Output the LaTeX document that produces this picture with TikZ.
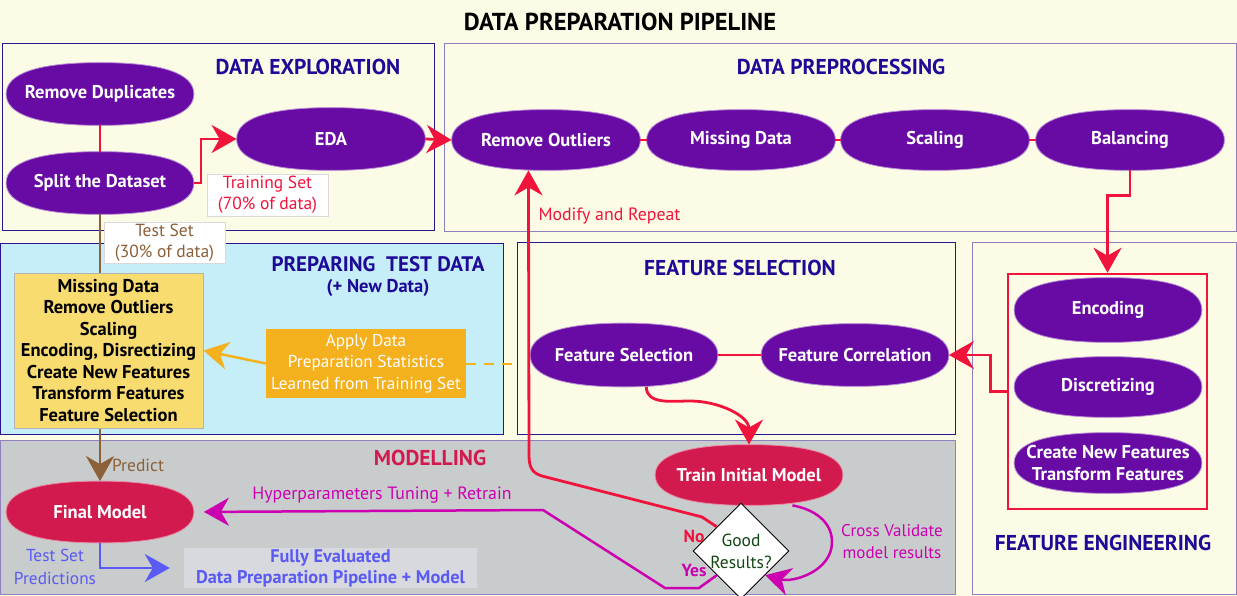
\documentclass[tikz,border=0pt]{standalone}
\usepackage{fontspec}
\setmainfont{PT Sans}
\usetikzlibrary{shapes.geometric,arrows.meta,calc}
\definecolor{bgc}{RGB}{252,252,230}
\definecolor{pur}{RGB}{104,10,164}
\definecolor{ttl}{RGB}{30,10,150}
\definecolor{bdark}{RGB}{40,20,140}
\definecolor{blav}{RGB}{145,128,192}
\definecolor{redc}{RGB}{240,20,60}
\definecolor{crim}{RGB}{210,26,78}
\definecolor{mag}{RGB}{204,0,176}
\definecolor{brn}{RGB}{140,96,56}
\definecolor{blu}{RGB}{90,90,245}
\definecolor{org}{RGB}{245,176,30}
\definecolor{ylw}{RGB}{248,220,112}
\definecolor{cyn}{RGB}{198,238,249}
\definecolor{gry}{RGB}{200,204,204}
\definecolor{grn}{RGB}{20,70,20}
\definecolor{fegray}{RGB}{216,217,222}
\makeatletter
\newdimen\seXa \newdimen\seXb \newdimen\seYa \newdimen\seYb
\newdimen\seXc \newdimen\seYc \newdimen\seKx \newdimen\seKy
\newdimen\seXp \newdimen\seXm \newdimen\seYp \newdimen\seYm
\pgfdeclareshape{sellipse}{
  \inheritsavedanchors[from=rectangle]
  \inheritanchorborder[from=rectangle]
  \inheritanchor[from=rectangle]{center}
  \inheritanchor[from=rectangle]{north}
  \inheritanchor[from=rectangle]{south}
  \inheritanchor[from=rectangle]{east}
  \inheritanchor[from=rectangle]{west}
  \inheritanchor[from=rectangle]{north east}
  \inheritanchor[from=rectangle]{north west}
  \inheritanchor[from=rectangle]{south east}
  \inheritanchor[from=rectangle]{south west}
  \inheritanchor[from=rectangle]{base}
  \inheritanchor[from=rectangle]{mid}
  \backgroundpath{%
    \southwest \seXa=\pgf@x \seYa=\pgf@y
    \northeast \seXb=\pgf@x \seYb=\pgf@y
    \seXc=\seXa \advance\seXc by \seXb \divide\seXc by 2
    \seYc=\seYa \advance\seYc by \seYb \divide\seYc by 2
    \seKx=\seXb \advance\seKx by -\seXc \seKx=0.66\seKx
    \seKy=\seYb \advance\seKy by -\seYc \seKy=0.66\seKy
    \seXp=\seXc \advance\seXp by \seKx
    \seXm=\seXc \advance\seXm by -\seKx
    \seYp=\seYc \advance\seYp by \seKy
    \seYm=\seYc \advance\seYm by -\seKy
    \pgfpathmoveto{\pgfpoint{\seXa}{\seYc}}%
    \pgfpathcurveto{\pgfpoint{\seXa}{\seYp}}{\pgfpoint{\seXm}{\seYb}}{\pgfpoint{\seXc}{\seYb}}%
    \pgfpathcurveto{\pgfpoint{\seXp}{\seYb}}{\pgfpoint{\seXb}{\seYp}}{\pgfpoint{\seXb}{\seYc}}%
    \pgfpathcurveto{\pgfpoint{\seXb}{\seYm}}{\pgfpoint{\seXp}{\seYa}}{\pgfpoint{\seXc}{\seYa}}%
    \pgfpathcurveto{\pgfpoint{\seXm}{\seYa}}{\pgfpoint{\seXa}{\seYm}}{\pgfpoint{\seXa}{\seYc}}%
    \pgfpathclose
  }
}
\makeatother
\tikzset{
  panel/.style={draw, line width=1.3pt, anchor=north west, inner sep=0pt},
  pn/.style={sellipse, fill=pur, draw=pur!45!white, line width=0.8pt, text=white,
    font=\bfseries\fontsize{18.5}{22}\selectfont, inner sep=0pt,
    minimum width=187pt, minimum height=62pt, align=center},
  cn/.style={pn, fill=crim, draw=crim!50!white},
  ptitle/.style={text=ttl, font=\bfseries\fontsize{21.5}{25}\selectfont},
  tip/.style={-{Stealth[length=25pt,width=28pt,inset=8pt]}},
  redl/.style={draw=redc, line width=2.8pt},
  lbl/.style={font=\fontsize{17.5}{21}\selectfont, align=center},
}
\begin{document}
\begin{tikzpicture}[x=1pt,y=-1pt]
\useasboundingbox (0,0) rectangle (1237,596);
\fill[bgc] (0,0) rectangle (1237,596);
\node[font=\bfseries\fontsize{24.5}{28}\selectfont] (title) at (620,22) {DATA PREPARATION PIPELINE};

% panels
\node[panel, draw=bdark, fill=bgc, minimum width=432pt, minimum height=187pt] (pde) at (2,43) {};
\node[panel, draw=blav, fill=bgc, minimum width=792pt, minimum height=188pt] (ppp) at (444,43) {};
\node[panel, draw=bdark, fill=cyn, minimum width=503pt, minimum height=191pt] (ptd) at (0,243) {};
\node[panel, draw=bdark, fill=bgc, minimum width=438pt, minimum height=192pt] (pfs) at (517,242) {};
\node[panel, draw=blav, fill=bgc, minimum width=264pt, minimum height=352pt] (pfe) at (972,242) {};
\node[panel, draw=blav, fill=gry, minimum width=955pt, minimum height=154pt] (pmo) at (0,440) {};

% panel titles
\node[ptitle] (tde) at (308,67) {DATA EXPLORATION};
\node[ptitle] (tpp) at (841,67) {DATA PREPROCESSING};
\node[ptitle, font=\bfseries\fontsize{21}{25}\selectfont] (ttd) at (378,264) {PREPARING\ \ TEST DATA};
\node[text=ttl, font=\bfseries\fontsize{18.5}{22}\selectfont] (ttd2) at (378,288) {(+ New Data)};
\node[ptitle] (tfs) at (740,268) {FEATURE SELECTION};
\node[ptitle] (tfe) at (1103,543) {FEATURE ENGINEERING};
\node[ptitle, text=crim] (tmo) at (430,458) {MODELLING};

% nodes
\node[pn] (rd) at (100,94) {Remove Duplicates};
\node[pn] (sd) at (100,183) {Split the Dataset};
\node[pn, minimum width=188pt] (eda) at (331,139) {EDA};
\node[pn, minimum width=188pt, minimum height=60pt] (ro) at (546,140) {Remove Outliers};
\node[pn, minimum width=188pt, minimum height=60pt] (md) at (741,140) {Missing Data};
\node[pn, minimum width=188pt, minimum height=60pt] (sc) at (935,140) {Scaling};
\node[pn, minimum width=188pt, minimum height=60pt] (ba) at (1130,140) {Balancing};
\node[pn, minimum height=63pt] (fs) at (624,355) {Feature Selection};
\node[pn] (fc) at (855,355) {Feature Correlation};
\node[cn, minimum height=60pt] (tim) at (749,475) {Train Initial Model};
\node[cn, minimum height=61pt] (fm) at (100,512) {Final Model};
\node[pn, minimum height=64pt] (enc) at (1108,310) {Encoding};
\node[pn, minimum height=60pt] (dis) at (1108,387) {Discretizing};
\node[pn, minimum height=60pt] (cnf) at (1108,463) {Create New Features\\Transform Features};
\node[draw=redc, line width=2.5pt, minimum width=199pt, minimum height=235pt, inner sep=0pt] (feb) at (1107.5,391.5) {};

\node[diamond, aspect=1, fill=white, draw=black, line width=1pt, inner sep=0pt,
  minimum width=88pt, minimum height=88pt, text=grn, align=center,
  font=\fontsize{17.5}{22}\selectfont] (gr) at (741,551) {Good\\Results?};

% predict line (under yellow box)
\draw[draw=brn, line width=2.8pt, tip, brn] (sd.south) -- (fm.north);
\node[text=brn, font=\fontsize{17.5}{20}\selectfont] (pl) at (138,465) {Predict};

\node[fill=ylw, draw=gray!60, line width=0.8pt, minimum width=189pt, minimum height=155pt,
  inner sep=0pt, align=center, font=\bfseries\fontsize{18.5}{21.5}\selectfont] (yb) at (108.5,350.5)
  {Missing Data\\Remove Outliers\\Scaling\\Encoding, Disrectizing\\Create New Features\\Transform Features\\Feature Selection};
\node[fill=org, minimum width=200pt, minimum height=69pt, inner sep=0pt, align=center,
  text=white, font=\fontsize{17.2}{21.3}\selectfont] (ob) at (366,363.5)
  {Apply Data\\Preparation Statistics\\Learned from Training Set};

% labels with boxes
\node[fill=white, draw=gray!30, line width=0.8pt, minimum width=121pt, minimum height=42pt, inner sep=0pt,
  text=redc, lbl] (tsl) at (267.5,195) {Training Set\\(70\% of data)};
\node[fill=white, draw=gray!30, line width=0.8pt, minimum width=121pt, minimum height=41pt, inner sep=0pt,
  text=brn, lbl] (tel) at (164.5,242.5) {Test Set\\(30\% of data)};
\node[fill=fegray, minimum width=293pt, minimum height=40pt, inner sep=0pt, text=blu, align=center,
  font=\bfseries\fontsize{18.3}{21}\selectfont] (fe) at (330.5,568) {Fully Evaluated\\Data Preparation Pipeline + Model};

% connectors
\draw[redl] (rd) -- (sd);
\draw[redl, tip, redc] (sd.east) -- ++(7,0) |- (eda.west);
\draw[redl, tip, redc] (eda.east) -- (ro.west);
\draw[redl] (ro) -- (md);
\draw[redl] (md) -- (sc);
\draw[redl] (sc) -- (ba);
\draw[redl, tip, redc] (ba.south) -- ++(0,25) -| (feb.north);
\draw[redl, tip, redc] (feb.west) -- ++(-16,0) |- (fc.east);
\draw[redl] (fs) -- (fc);
\draw[redl, tip, redc] (fs.305) to[out=-90,in=180] (690,401) to[out=0,in=90] (tim.north);
\draw[redl, tip, redc] (gr.north west) -- (702,517) -- (542,476)
  .. controls (532,473) and (529,467) .. (529,455) -- (ro.240);
\node[text=redc, anchor=west, font=\fontsize{17.8}{20}\selectfont] (mr) at (535,216) {Modify and Repeat};

\draw[draw=mag, line width=2.5pt, tip, mag, shorten >=10pt] (gr.south west) -- (699,588) -- (665,588) -- (543,510) -- (fm.east);
\node[text=mag, font=\fontsize{17.8}{20}\selectfont] (hp) at (382,495) {Hyperparameters Tuning + Retrain};
\draw[draw=mag, line width=2.5pt, tip, mag] (tim.325) to[out=-10,in=90] (832,542) to[out=-90,in=-15] (gr.south east);
\node[text=mag, lbl, font=\fontsize{17}{22}\selectfont] (cv) at (892,542) {Cross Validate\\model results};
\node[text=redc, font=\bfseries\fontsize{17.5}{20}\selectfont] (no) at (694,536) {No};
\node[text=mag, font=\bfseries\fontsize{17.5}{20}\selectfont] (yes) at (694,570) {Yes};

\draw[draw=blu, line width=2.5pt, tip, blu, shorten >=14pt] (fm.south) |- (fe.west);
\node[text=blu, lbl, font=\fontsize{17.3}{23}\selectfont] (tsp) at (55,567) {Test Set\\Predictions};

\draw[draw=org, line width=2.5pt, tip, org] (ob.west) -- (yb.east);
\draw[draw=org, line width=2pt, dashed, dash pattern=on 10pt off 8pt] (ob.east) -- (ob.east -| pfs.west);
\end{tikzpicture}
\end{document}
